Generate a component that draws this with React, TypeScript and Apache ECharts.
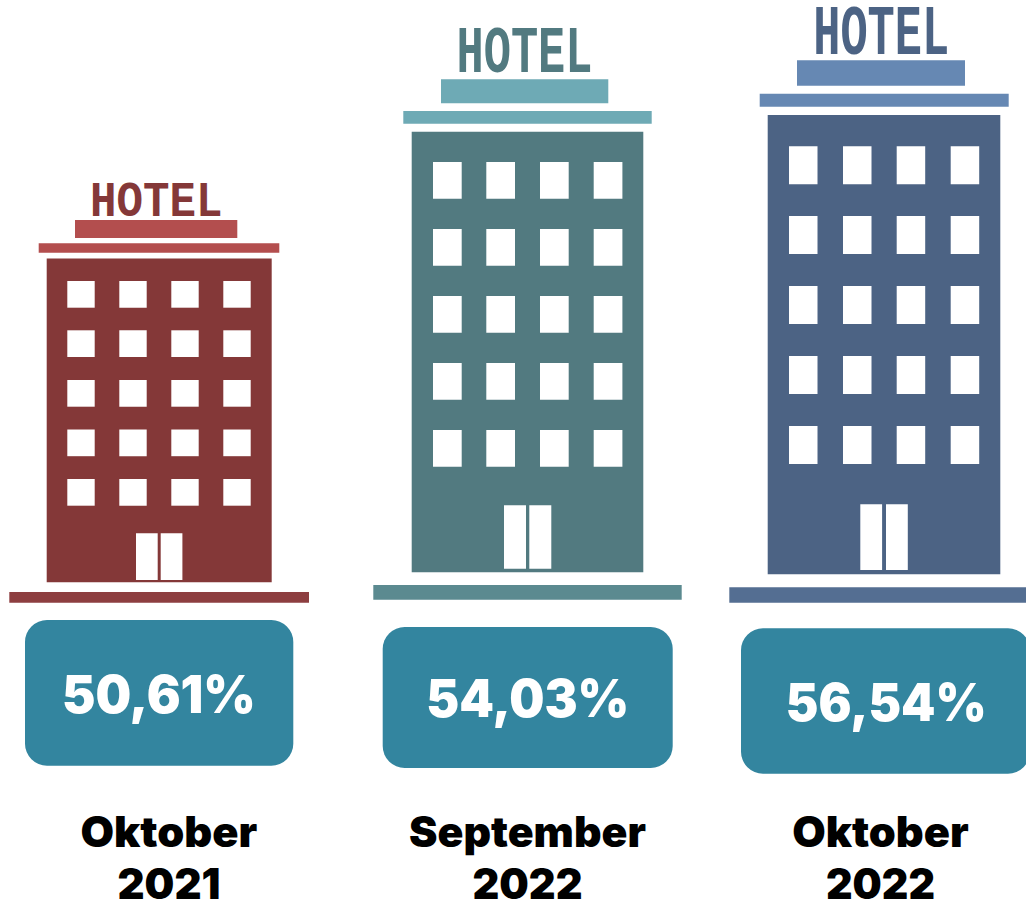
import React, { useEffect, useRef } from "react";
import * as echarts from "echarts";

const periods = ["Oktober\n2021", "September\n2022", "Oktober\n2022"];
const occupancy = [50.61, 54.03, 56.54];
const signWord = "HOTEL";

const bodyColors = ["#843838", "#527a80", "#4c6384"];
const roofColors = ["#b34e4e", "#6eaab5", "#6688b3"];
const groundColors = ["#8d3e40", "#5b8a90", "#546e92"];
const pillColor = "#33859f";

// Pictogram geometry, relative to the body's top centre. The anchor is found
// through the axes; shift moves it from the axis point to the drawn building.
const pictograms = [
  {
    shift: [-11.8, -186.5], body: [225, 323.8], ground: [-149.9, 333.5, 299.7, 10.7],
    roof: [-120.5, -15.2, 240.6, 9.4], sign: [-84.2, -38.5, 162.3, 18],
    word: [-2.85, -56, 132.5, 32.4],
    winX: [-91.9, -39.9, 12.1, 64.1], winY: [22.5, 71.8, 121.5, 171, 220.5], win: [27.4, 26.7],
    doorX: [-23.2, 1.5], door: [21.7, 274.8, 46.7],
    pill: [-134.2, 361.5, 268.3, 145.7], value: [-0.35, 435, 194],
    labels: [[9.65, 573, 177], [9.8, 625, 103]],
  },
  {
    shift: [14.5, -282.5], body: [231.6, 440.6], ground: [-154.2, 453.3, 308.4, 14.7],
    roof: [-124.2, -20.7, 248.4, 12.7], sign: [-86.5, -52.4, 167.3, 24],
    word: [-3, -77, 136, 43.3],
    winX: [-94.5, -41.2, 12.5, 66.2], winY: [30.3, 97.3, 164.3, 231.3, 298.3], win: [28.7, 36.7],
    doorX: [-23.5, 1.8], door: [22, 373.6, 63.4],
    pill: [-144.8, 495.3, 290, 141], value: [0.3, 566.8, 203],
    labels: [[0, 699.8, 237], [0, 751.8, 110]],
  },
  {
    shift: [29, -276.6], body: [232.6, 459.3], ground: [-154.7, 472.3, 320, 15.4],
    roof: [-124.3, -21.3, 249, 13], sign: [-87, -54.7, 168, 25.4],
    word: [-2.8, -79.5, 136, 45.7],
    winX: [-95, -41, 12.7, 66.7], winY: [31.3, 101, 171, 241, 311], win: [28.5, 38],
    doorX: [-23.7, 2], door: [21.8, 389.3, 65.7],
    pill: [-143, 513.3, 289, 145.4], value: [2.2, 586.85, 201],
    labels: [[-3.5, 716.5, 176.6], [-3.5, 768.5, 109]],
  },
];

const ctx = document.createElement("canvas").getContext("2d") as CanvasRenderingContext2D;
const measure = (text: string, font: string) => {
  ctx.font = font;
  return ctx.measureText(text).width;
};

const VALUE_FONT = { family: "Inter", weight: 900, size: 52 };
const LABEL_FONT = { family: "Inter", weight: 900, size: 42 };
const WORD_FONT = { family: "Liberation Mono", weight: 700, size: 40 };

const fitText = (text: string, f: any, cx: number, cy: number, width: number, fill: string, extra: any = {}) => {
  const natural = measure(text, `${f.weight} ${f.size}px "${f.family}"`);
  return {
    type: "text",
    x: cx,
    y: cy,
    scaleX: width / natural,
    scaleY: extra.scaleY ?? 1,
    style: {
      text,
      fill,
      fontFamily: f.family,
      fontWeight: f.weight,
      fontSize: f.size,
      align: "center",
      verticalAlign: "middle",
      lineHeight: extra.lineHeight,
    },
  };
};

export default function App() {
  const ref = useRef<HTMLDivElement>(null);
  useEffect(() => {
    const chart = echarts.init(ref.current!, undefined, { renderer: "svg" });
    chart.setOption({
      animation: false,
      backgroundColor: "#ffffff",
      grid: { left: 0, right: 0, top: 0, bottom: 0 },
      xAxis: { type: "category", data: periods, show: false },
      yAxis: { type: "value", min: 0, max: 100, show: false },
      series: [
        {
          type: "custom",
          clip: false,
          data: occupancy.map((v, i) => [i, v]),
          encode: { x: 0, y: 1 },
          renderItem: (_params: any, api: any) => {
            const i = api.value(0);
            const v = api.value(1);
            const p = pictograms[i];
            const [ax, ay] = api.coord([i, v]);
            const cx = ax + p.shift[0];
            const ty = ay + p.shift[1];
            const rect = (r: number[], fill: string, radius = 0) => ({
              type: "rect",
              shape: { x: cx + r[0], y: ty + r[1], width: r[2], height: r[3], r: radius },
              style: { fill },
            });
            const children: any[] = [
              rect([-p.body[0] / 2, 0, p.body[0], p.body[1]], bodyColors[i]),
              rect(p.ground, groundColors[i]),
              rect(p.roof, roofColors[i]),
              rect(p.sign, roofColors[i]),
            ];
            p.winY.forEach((wy) =>
              p.winX.forEach((wx) => children.push(rect([wx, wy, p.win[0], p.win[1]], "#ffffff")))
            );
            p.doorX.forEach((dx) => children.push(rect([dx, p.door[1], p.door[0], p.door[2]], "#ffffff")));
            children.push(rect(p.pill, pillColor, 22));
            children.push(
              fitText(signWord, WORD_FONT, cx + p.word[0], ty + p.word[1], p.word[2], bodyColors[i], {
                scaleY: p.word[3] / 26,
                lineHeight: 28,
              })
            );
            children.push(
              fitText(v.toFixed(2).replace(".", ",") + "%", VALUE_FONT, cx + p.value[0], ty + p.value[1], p.value[2], "#ffffff")
            );
            periods[i].split("\n").forEach((line, k) => {
              const l = p.labels[k];
              children.push(fitText(line, LABEL_FONT, cx + l[0], ty + l[1], l[2], "#000000", { lineHeight: 34 }));
            });
            return { type: "group", children };
          },
        },
      ],
    });
    return () => chart.dispose();
  }, []);
  return <div ref={ref} style={{ position: "absolute", left: 0, top: 0, width: 1026, height: 901 }} />;
}
